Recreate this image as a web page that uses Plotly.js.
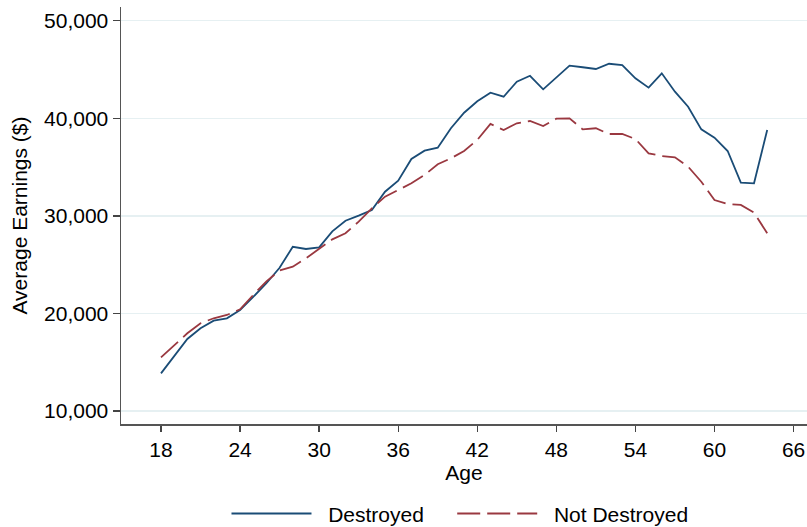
<!DOCTYPE html>
<html>
<head>
<meta charset="utf-8">
<script src="https://cdn.plot.ly/plotly-3.0.1.min.js"></script>
<style>html,body{margin:0;padding:0;background:#fff;}#chart{width:807px;height:527px;}</style>
</head>
<body>
<div id="chart"></div>
<script>
const ages = [18,19,20,21,22,23,24,25,26,27,28,29,30,31,32,33,34,35,36,37,38,39,40,41,42,43,44,45,46,47,48,49,50,51,52,53,54,55,56,57,58,59,60,61,62,63,64];
const destroyed = [13870,15600,17390,18480,19260,19510,20360,21700,23100,24690,26840,26610,26780,28420,29510,30020,30600,32480,33610,35830,36680,36990,38980,40570,41740,42620,42210,43750,44360,42970,44200,45390,45230,45050,45590,45460,44100,43140,44610,42730,41190,38870,38010,36650,33400,33340,38800];
const notDestroyed = [15510,16750,17970,19000,19510,19850,20430,21900,23300,24400,24800,25650,26580,27600,28220,29410,30780,31970,32650,33340,34190,35290,35900,36650,37780,39420,38800,39490,39720,39210,39960,40000,38870,38980,38390,38390,37880,36410,36140,36000,35040,33500,31630,31220,31120,30330,28220];
const xTicks = [18,24,30,36,42,48,54,60,66];
const yTicks = [10000,20000,30000,40000,50000];
const seriesNames = ["Destroyed","Not Destroyed"];

const FONT = "Liberation Sans, Arial, Helvetica, sans-serif";
const FS = 21;
const NB = "\u00a0";
const traces = [
  {x: ages, y: destroyed, name: NB + NB + seriesNames[0] + NB + NB + NB + NB, type: "scatter", mode: "lines",
   line: {color: "#1a4c76", width: 1.8}},
  {x: ages, y: notDestroyed, name: NB + NB + seriesNames[1], type: "scatter", mode: "lines",
   line: {color: "#9a3840", width: 1.8, dash: "23px,7px"}}
];
const layout = {
  width: 807, height: 527,
  margin: {l: 121, r: 0, t: 7, b: 103},
  paper_bgcolor: "#ffffff", plot_bgcolor: "#ffffff",
  font: {family: FONT, size: FS, color: "#000"},
  showlegend: true,
  legend: {orientation: "h", x: 0.57, xref: "container", xanchor: "center",
           y: 0.025, yref: "container", yanchor: "middle",
           itemwidth: 80, font: {family: FONT, size: FS, color: "#000"}, bgcolor: "rgba(0,0,0,0)"},
  xaxis: {range: [14.965, 67.02], tickmode: "array", tickvals: xTicks, ticktext: xTicks.map(String),
          showgrid: false, zeroline: false, showline: true, linecolor: "#555", linewidth: 1.5,
          ticks: "outside", ticklen: 6, tickwidth: 1.3, tickcolor: "#444",
          title: {text: "Age", font: {family: FONT, size: FS, color: "#000"}, standoff: 3}},
  yaxis: {range: [8678, 51404], tickmode: "array", tickvals: yTicks,
          ticktext: yTicks.map(v => v.toLocaleString("en-US")),
          showgrid: true, gridcolor: "#e6f0f2", gridwidth: 1.5, zeroline: false,
          showline: true, linecolor: "#555", linewidth: 1.5,
          ticks: "outside", ticklen: 7, tickwidth: 1.3, tickcolor: "#444",
          title: {text: "Average Earnings ($)", font: {family: FONT, size: FS, color: "#000"}, standoff: 10}}
};
Plotly.newPlot("chart", traces, layout, {displayModeBar: false, staticPlot: true});
</script>
</body>
</html>
